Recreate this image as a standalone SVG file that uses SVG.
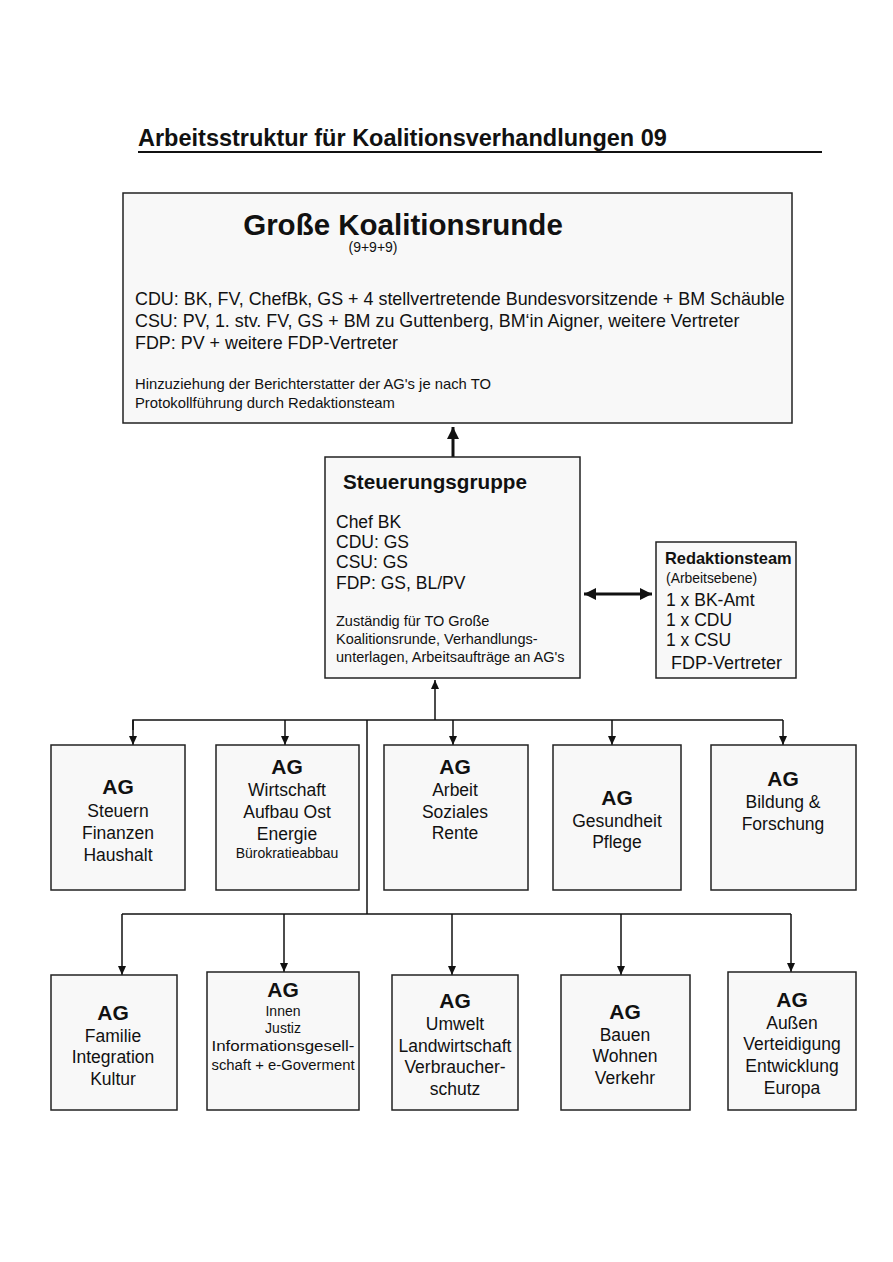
<svg xmlns="http://www.w3.org/2000/svg" width="893" height="1262" viewBox="0 0 893 1262">
<defs>
<marker id="ah" markerWidth="10" markerHeight="10" refX="9" refY="5" orient="auto" markerUnits="userSpaceOnUse"><path d="M0,1 L9,5 L0,9 Z" fill="#111"/></marker>
<marker id="ahb" markerWidth="14" markerHeight="14" refX="12" refY="7" orient="auto-start-reverse" markerUnits="userSpaceOnUse"><path d="M0,1 L12,7 L0,13 Z" fill="#111"/></marker>
</defs>
<style>
text{font-family:"Liberation Sans",Arial,sans-serif;fill:#111}
.box{fill:#f8f8f8;stroke:#222;stroke-width:1.5}
.b{font-weight:bold}
.c{text-anchor:middle}
.ag{font-size:21px;font-weight:bold}
.t{font-size:17.5px}
.s{font-size:14.5px}
.line{fill:none;stroke:#111;stroke-width:1.5}
</style>
<rect width="893" height="1262" fill="#fff"/>
<g id="title">
<text x="138" y="146" class="b" font-size="23.5">Arbeitsstruktur für Koalitionsverhandlungen 09</text>
<line x1="138" y1="152" x2="822" y2="152" stroke="#111" stroke-width="2"/>
</g>
<g id="connectors">
<line x1="453" y1="457" x2="453" y2="427" stroke="#111" stroke-width="3" marker-end="url(#ahb)"/>
<line x1="584" y1="594" x2="652" y2="594" stroke="#111" stroke-width="3" marker-start="url(#ahb)" marker-end="url(#ahb)"/>
<line x1="435" y1="720" x2="435" y2="680" class="line" marker-end="url(#ah)"/>
<polyline points="133,730 133,720 783,720" class="line"/>
<line x1="133" y1="720" x2="133" y2="745" class="line" marker-end="url(#ah)"/>
<line x1="285" y1="720" x2="285" y2="745" class="line" marker-end="url(#ah)"/>
<line x1="453" y1="720" x2="453" y2="745" class="line" marker-end="url(#ah)"/>
<line x1="612" y1="720" x2="612" y2="745" class="line" marker-end="url(#ah)"/>
<line x1="783" y1="720" x2="783" y2="745" class="line" marker-end="url(#ah)"/>
<line x1="367" y1="720" x2="367" y2="914" class="line"/>
<line x1="122" y1="914" x2="791" y2="914" class="line"/>
<line x1="122" y1="914" x2="122" y2="975" class="line" marker-end="url(#ah)"/>
<line x1="284" y1="914" x2="284" y2="972" class="line" marker-end="url(#ah)"/>
<line x1="452" y1="914" x2="452" y2="975" class="line" marker-end="url(#ah)"/>
<line x1="621" y1="914" x2="621" y2="975" class="line" marker-end="url(#ah)"/>
<line x1="791" y1="914" x2="791" y2="972" class="line" marker-end="url(#ah)"/>
</g>
<g id="grosse-koalitionsrunde">
<rect x="123" y="193" width="669" height="230" class="box"/>
<text x="403" y="235" class="b c" font-size="29.5">Große Koalitionsrunde</text>
<text x="373" y="252" class="c" font-size="14">(9+9+9)</text>
<text x="135" y="305" font-size="17.9">CDU: BK, FV, ChefBk, GS + 4 stellvertretende Bundesvorsitzende + BM Schäuble</text>
<text x="135" y="327" font-size="17.9">CSU: PV, 1. stv. FV, GS + BM zu Guttenberg, BM‘in Aigner, weitere Vertreter</text>
<text x="135" y="349" font-size="17.9">FDP: PV + weitere FDP-Vertreter</text>
<text x="135" y="389" font-size="14.8">Hinzuziehung der Berichterstatter der AG's je nach TO</text>
<text x="135" y="408" font-size="14.8">Protokollführung durch Redaktionsteam</text>
</g>
<g id="steuerungsgruppe">
<rect x="325" y="457" width="255" height="221" class="box"/>
<text x="343" y="489" class="b" font-size="20.7">Steuerungsgruppe</text>
<text x="336" y="528" class="t">Chef BK</text>
<text x="336" y="548" class="t">CDU: GS</text>
<text x="336" y="568" class="t">CSU: GS</text>
<text x="336" y="589" class="t">FDP: GS, BL/PV</text>
<text x="336" y="626" class="s">Zuständig für TO Große</text>
<text x="336" y="644" class="s">Koalitionsrunde, Verhandlungs-</text>
<text x="336" y="662" class="s">unterlagen, Arbeitsaufträge an AG's</text>
</g>
<g id="redaktionsteam">
<rect x="656" y="542" width="140" height="136" class="box"/>
<text x="665" y="564" class="b" font-size="16.4">Redaktionsteam</text>
<text x="666" y="583" font-size="13.9">(Arbeitsebene)</text>
<text x="666" y="606" class="t">1 x BK-Amt</text>
<text x="666" y="626" class="t">1 x CDU</text>
<text x="666" y="646" class="t">1 x CSU</text>
<text x="671" y="669" font-size="18">FDP-Vertreter</text>
</g>
<g id="ag-steuern">
<rect x="51" y="745" width="134" height="145" class="box"/>
<text x="118" y="794" class="ag c">AG</text>
<text x="118" y="817" class="t c">Steuern</text>
<text x="118" y="839" class="t c">Finanzen</text>
<text x="118" y="861" class="t c">Haushalt</text>
</g>
<g id="ag-wirtschaft">
<rect x="216" y="745" width="143" height="145" class="box"/>
<text x="287" y="774" class="ag c">AG</text>
<text x="287" y="796" class="t c">Wirtschaft</text>
<text x="287" y="818" class="t c">Aufbau Ost</text>
<text x="287" y="840" class="t c">Energie</text>
<text x="287" y="858" class="c" font-size="14">Bürokratieabbau</text>
</g>
<g id="ag-arbeit">
<rect x="384" y="745" width="144" height="145" class="box"/>
<text x="455" y="774" class="ag c">AG</text>
<text x="455" y="796" class="t c">Arbeit</text>
<text x="455" y="818" class="t c">Soziales</text>
<text x="455" y="839" class="t c">Rente</text>
</g>
<g id="ag-gesundheit">
<rect x="553" y="745" width="128" height="145" class="box"/>
<text x="617" y="805" class="ag c">AG</text>
<text x="617" y="827" class="t c">Gesundheit</text>
<text x="617" y="848" class="t c">Pflege</text>
</g>
<g id="ag-bildung">
<rect x="711" y="745" width="145" height="145" class="box"/>
<text x="783" y="786" class="ag c">AG</text>
<text x="783" y="808" class="t c">Bildung &amp;</text>
<text x="783" y="830" class="t c">Forschung</text>
</g>
<g id="ag-familie">
<rect x="51" y="975" width="126" height="135" class="box"/>
<text x="113" y="1020" class="ag c">AG</text>
<text x="113" y="1042" class="t c">Familie</text>
<text x="113" y="1063" class="t c">Integration</text>
<text x="113" y="1085" class="t c">Kultur</text>
</g>
<g id="ag-innen">
<rect x="207" y="972" width="152" height="138" class="box"/>
<text x="283" y="997" class="ag c">AG</text>
<text x="283" y="1016" class="c" font-size="14">Innen</text>
<text x="283" y="1033" class="c" font-size="14">Justiz</text>
<text x="283" y="1051" class="c" font-size="15.5" textLength="143" lengthAdjust="spacingAndGlyphs">Informationsgesell-</text>
<text x="283" y="1070" class="c" font-size="15.5" textLength="143" lengthAdjust="spacingAndGlyphs">schaft + e-Goverment</text>
</g>
<g id="ag-umwelt">
<rect x="392" y="975" width="126" height="135" class="box"/>
<text x="455" y="1008" class="ag c">AG</text>
<text x="455" y="1030" class="t c">Umwelt</text>
<text x="455" y="1052" class="t c">Landwirtschaft</text>
<text x="455" y="1073" class="t c">Verbraucher-</text>
<text x="455" y="1095" class="t c">schutz</text>
</g>
<g id="ag-bauen">
<rect x="561" y="975" width="129" height="135" class="box"/>
<text x="625" y="1019" class="ag c">AG</text>
<text x="625" y="1041" class="t c">Bauen</text>
<text x="625" y="1062" class="t c">Wohnen</text>
<text x="625" y="1084" class="t c">Verkehr</text>
</g>
<g id="ag-aussen">
<rect x="728" y="972" width="128" height="138" class="box"/>
<text x="792" y="1007" class="ag c">AG</text>
<text x="792" y="1029" class="t c">Außen</text>
<text x="792" y="1050" class="t c">Verteidigung</text>
<text x="792" y="1072" class="t c">Entwicklung</text>
<text x="792" y="1094" class="t c">Europa</text>
</g>
</svg>
